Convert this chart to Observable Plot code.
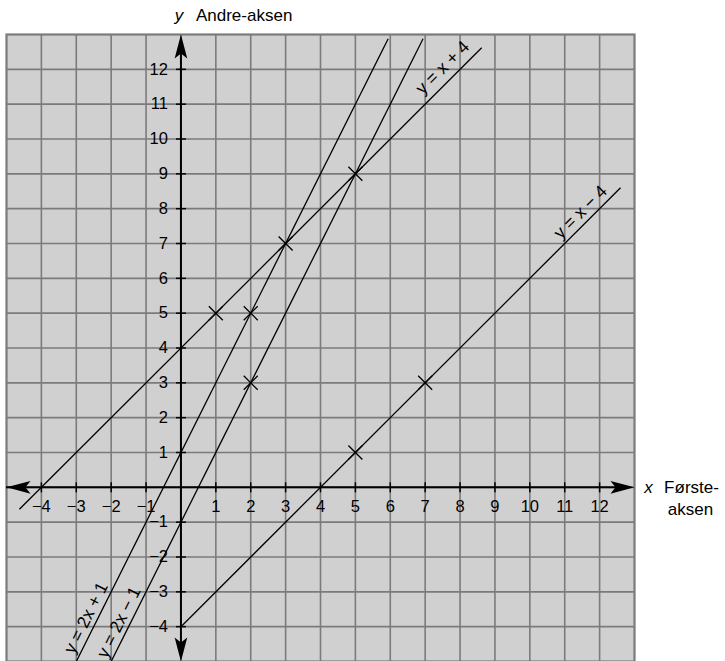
<!DOCTYPE html>
<html><head><meta charset="utf-8">
<script src="https://cdn.jsdelivr.net/npm/d3@7"></script>
<script src="https://cdn.jsdelivr.net/npm/@observablehq/plot@0.6"></script>
<style>body{margin:0;background:#fff;} svg{display:block;}</style>
</head><body><div id="chart"></div>
<script>
// ---- data ----
const xTicks = [-4,-3,-2,-1,1,2,3,4,5,6,7,8,9,10,11,12];
const yTicks = [-4,-3,-2,-1,1,2,3,4,5,6,7,8,9,10,11,12];
const gridValues = [-4,-3,-2,-1,0,1,2,3,4,5,6,7,8,9,10,11,12];
const lineNames = ["y = x + 4", "y = x − 4", "y = 2x + 1", "y = 2x − 1"];
const lineStartX = [-4.63, 0, -3, -2];
const lineStartY = [-0.63, -4, -5, -5];
const lineEndX = [8.62, 12.6, 5.94, 6.94];
const lineEndY = [12.62, 8.6, 12.88, 12.88];
const labelX = [7.5, 11.45, -2.72, -1.78];
const labelY = [12.05, 7.9, -3.75, -3.88];
const labelAngle = [-45, -45, -63.4, -63.4];
const pointX = [1, 2, 3, 5, 2, 5, 7];
const pointY = [5, 5, 7, 9, 3, 1, 3];
const xTitle = ["x", "Første-", "aksen"];
const yTitle = ["y", "Andre-aksen"];

// ---- tables built from the arrays ----
const lines = lineNames.map((n, i) => ({n, x1: lineStartX[i], y1: lineStartY[i], x2: lineEndX[i], y2: lineEndY[i]}));
const labels = lineNames.map((n, i) => ({n, x: labelX[i], y: labelY[i], a: labelAngle[i]}));
const points = pointX.map((x, i) => ({x, y: pointY[i]}));
const fmt = d => d < 0 ? "\u2212" + Math.abs(d) : String(d);

const arrowSym = {draw(ctx) {
  ctx.moveTo(0, 0); ctx.lineTo(6.3, 24); ctx.lineTo(0, 19); ctx.lineTo(-6.3, 24); ctx.closePath();
}};
const tickSym = {draw(ctx) { ctx.moveTo(0, -5); ctx.lineTo(0, 5); }};
const crossSym = {draw(ctx) {
  ctx.moveTo(-7, -7); ctx.lineTo(7, 7); ctx.moveTo(-7, 7); ctx.lineTo(7, -7);
}};

const font = "'Liberation Sans', Arial, Helvetica, sans-serif";
const arrows = [
  {x: 0, y: 13, r: 0}, {x: 0, y: -5, r: 180}, {x: 13, y: 0, r: 90}, {x: -5, y: 0, r: -90}
];

const chart = Plot.plot({
  width: 725, height: 661,
  marginLeft: 6, marginRight: 91, marginTop: 34, marginBottom: 0,
  x: {domain: [-5, 13], axis: null},
  y: {domain: [-5, 13], axis: null},
  style: {fontFamily: font, background: "#fff", overflow: "visible"},
  marks: [
    Plot.frame({fill: "#d0d0d0"}),
    Plot.ruleX(gridValues, {stroke: "#7b7b7b", strokeWidth: 1.6}),
    Plot.ruleY(gridValues, {stroke: "#7b7b7b", strokeWidth: 1.6}),
    Plot.frame({stroke: "#7b7b7b", strokeWidth: 2.2}),
    // axes
    Plot.ruleY([0], {x1: -5, x2: 12.5, stroke: "#000", strokeWidth: 2}),
    Plot.ruleX([0], {y1: -4.5, y2: 12.5, stroke: "#000", strokeWidth: 2}),
    Plot.dot(arrows, {x: "x", y: "y", rotate: "r", symbol: arrowSym, fill: "#000", stroke: null, r: 1}),
    Plot.dot(xTicks, {x: d => d, y: 0, symbol: tickSym, stroke: "#000", strokeWidth: 1.5, r: 1}),
    Plot.dot(yTicks, {x: 0, y: d => d, symbol: tickSym, rotate: 90, stroke: "#000", strokeWidth: 1.5, r: 1}),
    Plot.text(xTicks, {x: d => d, y: 0, text: fmt, dy: 19.5, fontSize: 16.5, fill: "#000"}),
    Plot.text(yTicks, {x: 0, y: d => d, text: fmt, dx: -13, textAnchor: "end", fontSize: 16.5, fill: "#000"}),
    // lines
    Plot.link(lines, {x1: "x1", y1: "y1", x2: "x2", y2: "y2", stroke: "#000", strokeWidth: 1.3}),
    Plot.dot(points, {x: "x", y: "y", symbol: crossSym, stroke: "#000", strokeWidth: 1.3, r: 1}),
    Plot.text(labels, {x: "x", y: "y", text: "n", rotate: "a", fontSize: 17.5, fill: "#000"}),
    // axis titles
    Plot.text([yTitle[0]], {x: 0, y: 13, dy: -19, dx: -2, fontSize: 17, fontStyle: "italic", fill: "#000"}),
    Plot.text([yTitle[1]], {x: 0, y: 13, dy: -19, dx: 15, textAnchor: "start", fontSize: 17, fill: "#000"}),
    Plot.text([xTitle[0]], {x: 13, y: 0, dx: 14, fontSize: 17, fontStyle: "italic", fill: "#000"}),
    Plot.text([xTitle[1]], {x: 13, y: 0, dx: 57, fontSize: 17, fill: "#000"}),
    Plot.text([xTitle[2]], {x: 13, y: 0, dx: 56, dy: 22, fontSize: 17, fill: "#000"})
  ]
});
document.getElementById("chart").appendChild(chart);
</script>
</body></html>
